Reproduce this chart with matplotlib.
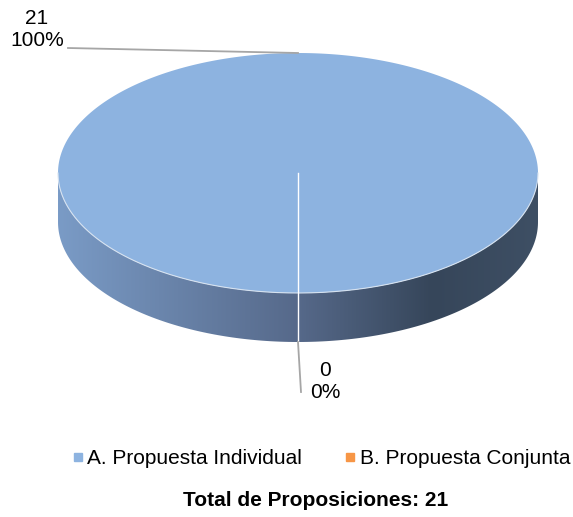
import numpy as np
import matplotlib.pyplot as plt
from matplotlib.colors import LinearSegmentedColormap
from matplotlib.lines import Line2D
from matplotlib.patches import Polygon

categories = ["A. Propuesta Individual", "B. Propuesta Conjunta"]
values = [21, 0]
colors = ["#8DB3E0", "#F79646"]
title = "Total de Proposiciones: " + str(sum(values))

plt.rcParams['font.family'] = ['Liberation Sans', 'DejaVu Sans']

fig = plt.figure(figsize=(5.73, 5.17), dpi=100)
ax = fig.add_axes([0, 0, 1, 1])
ax.set_xlim(0, 573)
ax.set_ylim(517, 0)
ax.axis('off')

# ellipse geometry (pixels)
cx, cy, a, b, depth = 298, 173, 240, 120, 49


def ell(t, dy=0):
    # t in degrees, math convention (90 = top)
    t = np.radians(t)
    return cx + a * np.cos(t), cy - b * np.sin(t) + dy


# side wall with gradient
t = np.linspace(180, 360, 200)
xt, yt = ell(t)
xb, yb = ell(t[::-1], depth)
side = Polygon(np.column_stack([np.r_[xt, xb], np.r_[yt, yb]]), closed=True,
               facecolor='none', edgecolor='none')
ax.add_patch(side)
cmap = LinearSegmentedColormap.from_list(
    "side", [(0, "#7A9BC6"), (0.5, "#56698A"), (0.78, "#36465A"), (1, "#3E4F64")])
grad = np.linspace(0, 1, 256)[None, :]
im = ax.imshow(grad, cmap=cmap, extent=(cx - a, cx + a, cy + b + depth + 2, cy - 2),
               aspect='auto', zorder=1)
im.set_clip_path(side)

# top face slices from data
total = sum(values)
start = 270
mids = []
for v, c in zip(values, colors):
    span = 360 * v / total
    mids.append(start + span / 2)
    if span > 0:
        tt = np.linspace(start, start + span, 300)
        px, py = ell(tt)
        if span < 360:
            px, py = np.r_[cx, px], np.r_[cy, py]
        ax.add_patch(Polygon(np.column_stack([px, py]), closed=True,
                             facecolor=c, edgecolor='none', zorder=2))
    start += span

# light rim on the front edge
ax.plot(xt, yt, color="#D6E2F0", lw=0.8, zorder=3)

# slice boundary (white line)
bx, by = ell(270)
ax.plot([cx, bx], [cy, by + depth], color='white', lw=1, zorder=4)

# data labels with leader lines
lab_pos = [(37, 29, (68, 48)), (325, 382, (301, 392))]
for v, m, (lx, ly, lend) in zip(values, mids, lab_pos):
    px, py = ell(m)
    if 180 < (m % 360) < 360:
        py += depth
    ax.plot([px, lend[0]], [py, lend[1]], color="#A6A6A6", lw=1.3, zorder=5)
    ax.text(lx, ly, f"{v}\n{v / total:.0%}", ha='center', va='center', fontsize=15,
            linespacing=1.2, color='black', zorder=6)

handles = [Line2D([], [], marker='s', ls='none', markersize=5.5, color=c)
           for c in colors]
fig.legend(handles, categories, loc='center', bbox_to_anchor=(321 / 573, 1 - 459 / 517),
           ncol=2, frameon=False, fontsize=15, handlelength=0.6, handletextpad=0.15,
           columnspacing=2.0)

fig.text(316 / 573, 1 - 501 / 517, title, ha='center', va='center',
         fontsize=15, fontweight='bold')

fig.savefig("out.png", dpi=100)
